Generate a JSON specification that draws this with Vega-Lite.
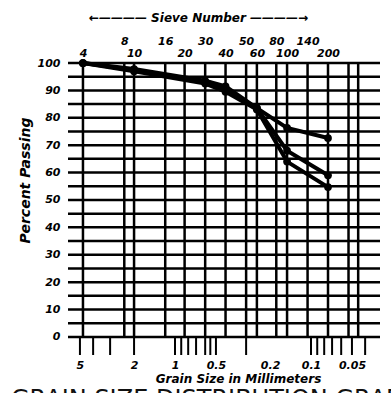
{
  "$schema": "https://vega.github.io/schema/vega-lite/v6.json",
  "width": 312,
  "height": 292,
  "autosize": {"type": "none"},
  "padding": {"left": 68, "top": 63, "right": 11, "bottom": 38},
  "background": "white",
  "config": {
    "view": {"stroke": null},
    "axis": {
      "labelFont": "DejaVu Sans", "labelFontWeight": "bold", "labelFontStyle": "italic", "labelColor": "black",
      "titleFont": "DejaVu Sans", "titleFontWeight": "bold", "titleFontStyle": "italic", "titleColor": "black",
      "domain": false, "ticks": false, "grid": false
    }
  },
  "title": {
    "text": "GRAIN SIZE DISTRIBUTION GRAPH",
    "orient": "bottom", "anchor": "start", "frame": "group",
    "dx": -57, "dy": 4, "offset": 0,
    "font": "DejaVu Sans", "fontSize": 24, "fontWeight": "normal", "color": "#111"
  },
  "datasets": {
    "hgrid": [
      {"pct": 0}, {"pct": 5}, {"pct": 10}, {"pct": 15}, {"pct": 20}, {"pct": 25}, {"pct": 30},
      {"pct": 35}, {"pct": 40}, {"pct": 45}, {"pct": 50}, {"pct": 55}, {"pct": 60}, {"pct": 65},
      {"pct": 70}, {"pct": 75}, {"pct": 80}, {"pct": 85}, {"pct": 90}, {"pct": 95}, {"pct": 100}
    ],
    "vgrid": [
      {"mm": 4.75}, {"mm": 2.36}, {"mm": 2.0}, {"mm": 1.18}, {"mm": 0.85}, {"mm": 0.6},
      {"mm": 0.425}, {"mm": 0.3}, {"mm": 0.25}, {"mm": 0.18}, {"mm": 0.15}, {"mm": 0.106},
      {"mm": 0.075}, {"mm": 0.053}, {"mm": 0.045}
    ],
    "strip": [
      {"mm": 5}, {"mm": 4}, {"mm": 3}, {"mm": 2}, {"mm": 1}, {"mm": 0.9}, {"mm": 0.8},
      {"mm": 0.7}, {"mm": 0.6}, {"mm": 0.55}, {"mm": 0.5}, {"mm": 0.3}, {"mm": 0.1}, {"mm": 0.09},
      {"mm": 0.08}, {"mm": 0.07}, {"mm": 0.06}, {"mm": 0.05}, {"mm": 0.04}
    ],
    "curves": [
      {"series": "A", "mm": 4.75, "pct": 100}, {"series": "A", "mm": 2.0, "pct": 97.8},
      {"series": "A", "mm": 0.6, "pct": 93.5}, {"series": "A", "mm": 0.425, "pct": 91.5},
      {"series": "A", "mm": 0.25, "pct": 83.5}, {"series": "A", "mm": 0.15, "pct": 76.3},
      {"series": "A", "mm": 0.075, "pct": 72.6},
      {"series": "B", "mm": 4.75, "pct": 100}, {"series": "B", "mm": 2.0, "pct": 97.4},
      {"series": "B", "mm": 0.6, "pct": 93}, {"series": "B", "mm": 0.425, "pct": 90.5},
      {"series": "B", "mm": 0.25, "pct": 83.5}, {"series": "B", "mm": 0.15, "pct": 68},
      {"series": "B", "mm": 0.075, "pct": 59},
      {"series": "C", "mm": 4.75, "pct": 100}, {"series": "C", "mm": 2.0, "pct": 97},
      {"series": "C", "mm": 0.6, "pct": 92.5}, {"series": "C", "mm": 0.425, "pct": 89.5},
      {"series": "C", "mm": 0.25, "pct": 83}, {"series": "C", "mm": 0.15, "pct": 64},
      {"series": "C", "mm": 0.075, "pct": 54.7}
    ]
  },
  "resolve": {"axis": {"x": "independent", "y": "independent"}},
  "layer": [
    {
      "data": {"name": "hgrid"},
      "mark": {"type": "rule", "color": "black", "strokeWidth": 2.5},
      "encoding": {
        "y": {"field": "pct", "type": "quantitative", "scale": {"domain": [-6.6, 100], "nice": false, "zero": false}, "axis": null}
      }
    },
    {
      "data": {"name": "vgrid"},
      "mark": {"type": "rule", "color": "black", "strokeWidth": 2.5},
      "encoding": {
        "x": {
          "field": "mm", "type": "quantitative",
          "scale": {"type": "log", "domain": [0.0311, 6.12], "reverse": true, "nice": false},
          "axis": {
            "orient": "top",
            "values": [4.75, 2.36, 2.0, 1.18, 0.85, 0.6, 0.425, 0.3, 0.25, 0.18, 0.15, 0.106, 0.075],
            "labelExpr": "['4','8','10','16','20','30','40','50','60','80','100','140','200'][indexof([4.75,2.36,2,1.18,0.85,0.6,0.425,0.3,0.25,0.18,0.15,0.106,0.075], datum.value)]",
            "labelPadding": {"condition": {"test": "indexof([2.36,1.18,0.6,0.3,0.18,0.106], datum.value) >= 0", "value": 17}, "value": 5},
            "labelFontSize": 11,
            "title": "←———— Sieve Number ————→",
            "titleFontSize": 12,
            "titleX": 130, "titleY": -46, "titleBaseline": "middle"
          }
        },
        "y": {"datum": 0, "type": "quantitative", "scale": {"domain": [-6.6, 100], "nice": false, "zero": false}, "axis": null},
        "y2": {"datum": 100}
      }
    },
    {
      "mark": {"type": "rule", "color": "black", "strokeWidth": 2.5},
      "encoding": {
        "x": {"datum": 6.12, "type": "quantitative", "scale": {"type": "log", "domain": [0.0311, 6.12], "reverse": true, "nice": false}, "axis": null},
        "y": {"datum": -6.6, "type": "quantitative", "axis": null},
        "y2": {"datum": 100}
      }
    },
    {
      "mark": {"type": "rule", "color": "black", "strokeWidth": 2.5},
      "encoding": {
        "x": {"datum": 0.0311, "type": "quantitative", "axis": null},
        "y": {"datum": -6.6, "type": "quantitative", "axis": null},
        "y2": {"datum": 100}
      }
    },
    {
      "data": {"name": "strip"},
      "mark": {"type": "rule", "color": "black", "strokeWidth": 2},
      "encoding": {
        "x": {"field": "mm", "type": "quantitative", "axis": null},
        "y": {"datum": -6.6, "type": "quantitative", "axis": null},
        "y2": {"datum": 0}
      }
    },
    {
      "mark": {"type": "rule", "color": "black", "strokeWidth": 2.5},
      "encoding": {
        "y": {"datum": -6.6, "type": "quantitative", "axis": null}
      }
    },
    {
      "mark": {"type": "rule", "color": "black", "strokeWidth": 2},
      "encoding": {
        "x": {"datum": 1.18, "type": "quantitative", "axis": null},
        "y": {"datum": 100, "type": "quantitative", "axis": null},
        "y2": {"datum": 105.5}
      }
    },
    {
      "data": {"name": "curves"},
      "mark": {"type": "line", "color": "black", "strokeWidth": 4},
      "encoding": {
        "x": {
          "field": "mm", "type": "quantitative",
          "axis": {
            "orient": "bottom",
            "values": [5, 2, 1, 0.5, 0.2, 0.1, 0.05],
            "labelExpr": "'' + datum.value",
            "labelFontSize": 11, "labelPadding": 4,
            "title": "Grain  Size in Millimeters",
            "titleFontSize": 12, "titleX": 170, "titleY": 23, "titleBaseline": "middle"
          }
        },
        "y": {
          "field": "pct", "type": "quantitative",
          "axis": {
            "values": [0, 10, 20, 30, 40, 50, 60, 70, 80, 90, 100],
            "labelFontSize": 11, "labelPadding": 8,
            "title": "Percent Passing", "titleFontSize": 14,
            "titleX": -43, "titleY": 117, "titleBaseline": "middle"
          }
        },
        "detail": {"field": "series"}
      }
    },
    {
      "data": {"name": "curves"},
      "mark": {"type": "point", "filled": true, "shape": "circle", "color": "black", "size": 60, "opacity": 1},
      "encoding": {
        "x": {"field": "mm", "type": "quantitative", "axis": null},
        "y": {"field": "pct", "type": "quantitative", "axis": null}
      }
    }
  ]
}
